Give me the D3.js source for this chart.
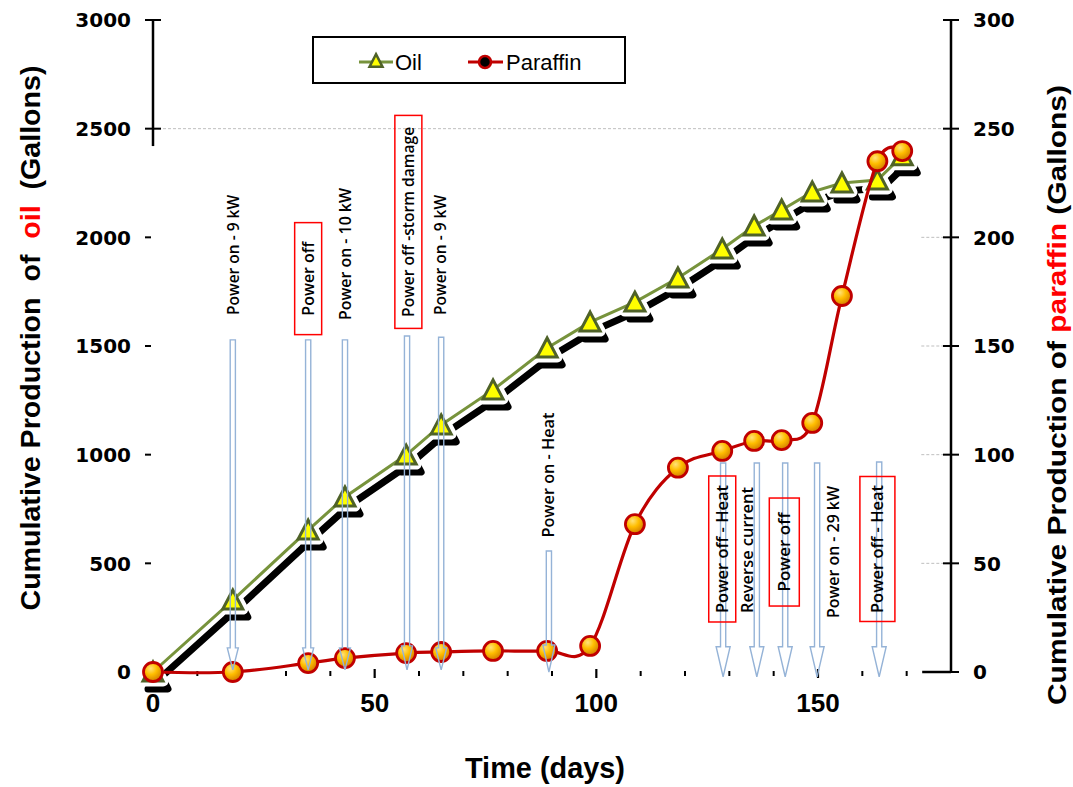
<!DOCTYPE html>
<html>
<head>
<meta charset="utf-8">
<script src="https://cdn.jsdelivr.net/npm/d3@7"></script>
<style>
  html, body { margin: 0; padding: 0; background: #fff; }
  svg { display: block; }
</style>
</head>
<body>
<svg id="chart" width="1073" height="787"></svg>
<script>
// ---------------- data ----------------
const days = [0, 18, 35, 43.3, 57.1, 65, 76.7, 88.9, 98.6, 108.7, 118.4, 128.4, 135.6, 141.8, 148.7, 155.4, 163.4, 169];
const oil = [0, 331, 653, 805, 998, 1137, 1298, 1491, 1610, 1702, 1813, 1946, 2052, 2126, 2209, 2250, 2264, 2375];
const paraffin = [0, 0, 4.1, 6.4, 8.7, 9.2, 9.7, 9.7, 12, 68, 94, 101.7, 106.3, 106.7, 114.6, 173, 235, 239.7];

const xTicks = [0, 50, 100, 150];
const xMinorTicks = [10, 20, 30, 40, 60, 70, 80, 90, 110, 120, 130, 140, 160, 170];
const oilTicks = [0, 500, 1000, 1500, 2000, 2500, 3000];
const parTicks = [0, 50, 100, 150, 200, 250, 300];

const seriesNames = ["Oil", "Paraffin"];

// annotations: arrow day, text day, label, boxed, text centre (oil units), arrow top (oil units)
const annArrowDay = [18, 35, 43.3, 57.3, 65, 89.3, 128.6, 136.2, 142.6, 149.8, 163.8];
const annTextDay  = [18, 35, 43.3, 57.6, 64.8, 89.1, 128.4, 134.0, 142.4, 153.4, 163.4];
const annLabels = ["Power on - 9 kW", "Power off", "Power on - 10 kW", "Power off -storm damage", "Power on - 9 kW",
                   "Power on - Heat", "Power off - Heat", "Reverse current", "Power off", "Power on - 29 kW", "Power off - Heat"];
const annBoxed = [false, true, false, true, false, false, true, false, true, false, true];
const annTextCentre = [1919, 1810, 1923, 2071, 1919, 906, 566, 561, 552, 552, 566];
const annArrowTop = [1528, 1528, 1528, 1546, 1540, 557, 962, 962, 962, 962, 966];
const annArrowTip = [10, 10, 10, 10, 10, 0, -22, -22, -22, -22, -22];

// ---------------- layout / styles ----------------
const annTextLen = [120, 74, 132, 190, 120, 125, 128, 126, 79, 132, 128];
const annBoxHalfH = [0, 56, 0, 106.5, 0, 0, 73, 0, 54, 0, 72.5];
const annBoxW = [0, 27, 0, 27, 0, 0, 27, 0, 30, 0, 35];
const annHeadHW = [5.5, 5.5, 5.5, 5.5, 5.5, 6, 7, 7, 7, 7, 7];
const annHeadL = [22, 22, 22, 24, 22, 27, 30, 30, 30, 30, 30];

const svg = d3.select("#chart");
const X0 = 153, X1 = 951, Y0 = 672, Y1 = 20;
const x = d3.scaleLinear().domain([0, 180]).range([X0, X1]);
const yL = d3.scaleLinear().domain([0, 3000]).range([Y0, Y1]);
const yR = d3.scaleLinear().domain([0, 300]).range([Y0, Y1]);

const oilData = days.map((d, i) => ({ d, v: oil[i] }));
const parData = days.map((d, i) => ({ d, v: paraffin[i] }));

// defs
const defs = svg.append("defs");
const rg = defs.append("radialGradient").attr("id", "ball").attr("cx", "38%").attr("cy", "32%").attr("r", "70%");
rg.append("stop").attr("offset", "0%").attr("stop-color", "#FFE27A");
rg.append("stop").attr("offset", "45%").attr("stop-color", "#FFBE00");
rg.append("stop").attr("offset", "100%").attr("stop-color", "#D07A00");

// ---------------- gridlines ----------------
const grid = svg.append("g");
grid.append("line").attr("x1", X0).attr("x2", X1).attr("y1", yR(250)).attr("y2", yR(250))
  .attr("stroke", "#BFBFBF").attr("stroke-width", 1).attr("stroke-dasharray", "3,2");
[50, 100, 150, 200].forEach(t => {
  grid.append("line").attr("x1", x(173.3)).attr("x2", X1).attr("y1", yR(t)).attr("y2", yR(t))
    .attr("stroke", "#BFBFBF").attr("stroke-width", 1).attr("stroke-dasharray", "3,2");
});

// ---------------- axes ----------------
const ax = svg.append("g").attr("stroke", "#000");
ax.append("line").attr("x1", X0).attr("x2", X0).attr("y1", yL(3000)).attr("y2", yL(2420)).attr("stroke-width", 2.5);
oilTicks.forEach(t => {
  const big = t >= 2500;
  ax.append("line").attr("x1", X0 - 8).attr("x2", big ? X0 + 8 : X0 - 2)
    .attr("y1", yL(t)).attr("y2", yL(t)).attr("stroke-width", 2);
});
ax.append("line").attr("x1", X1).attr("x2", X1).attr("y1", Y1).attr("y2", Y0).attr("stroke-width", 2.5);
parTicks.forEach(t => {
  ax.append("line").attr("x1", X1 - 8).attr("x2", X1 + 8).attr("y1", yR(t)).attr("y2", yR(t)).attr("stroke-width", 2);
});
ax.append("line").attr("x1", x(173.5)).attr("x2", X1).attr("y1", Y0).attr("y2", Y0).attr("stroke-width", 2.5);
xMinorTicks.forEach(t => {
  ax.append("line").attr("x1", x(t)).attr("x2", x(t)).attr("y1", Y0 - 1).attr("y2", Y0 + 4).attr("stroke-width", 2);
});
xTicks.forEach(t => {
  ax.append("line").attr("x1", x(t)).attr("x2", x(t)).attr("y1", Y0 - 3).attr("y2", Y0 + 6).attr("stroke-width", 2.2);
});

// tick labels
const tickFont = "'DejaVu Sans', sans-serif";
svg.append("g").selectAll("text").data(oilTicks).join("text")
  .attr("x", 131).attr("y", d => yL(d)).attr("dy", "0.36em").attr("text-anchor", "end")
  .attr("font-family", tickFont).attr("font-weight", "bold").attr("font-size", 20).text(d => d);
svg.append("g").selectAll("text").data(parTicks).join("text")
  .attr("x", 973).attr("y", d => yR(d)).attr("dy", "0.36em").attr("text-anchor", "start")
  .attr("font-family", tickFont).attr("font-weight", "bold").attr("font-size", 20).text(d => d);
svg.append("g").selectAll("text").data(xTicks).join("text")
  .attr("x", d => x(d)).attr("y", 712).attr("text-anchor", "middle")
  .attr("font-family", "'Liberation Sans', Arial, sans-serif").attr("font-weight", "bold").attr("font-size", 25)
  .attr("textLength", d => String(d).length * 14.5).attr("lengthAdjust", "spacingAndGlyphs").text(d => d);

// axis titles
const titleFont = "'Liberation Sans', Arial, sans-serif";
function rotTitle(cx, cy, len, parts, size) {
  const t = svg.append("text").attr("transform", `translate(${cx},${cy}) rotate(-90)`)
    .attr("text-anchor", "middle").attr("dominant-baseline", "central")
    .attr("font-family", titleFont).attr("font-weight", "bold").attr("font-size", size)
    .attr("textLength", len).attr("lengthAdjust", "spacingAndGlyphs")
    .style("white-space", "pre");
  parts.forEach(p => t.append("tspan").attr("fill", p[1]).text(p[0]));
}
rotTitle(31, 338, 545, [["Cumulative Production  of  ", "#000"], ["oil", "#FF0000"], ["  (Gallons)", "#000"]], 27);
rotTitle(1057, 395, 620, [["Cumulative Production of ", "#000"], ["paraffin", "#FF0000"], [" (Gallons)", "#000"]], 26);
svg.append("text").attr("x", 545).attr("y", 778).attr("text-anchor", "middle")
  .attr("font-family", titleFont).attr("font-weight", "bold").attr("font-size", 29)
  .attr("textLength", 160).attr("lengthAdjust", "spacingAndGlyphs").text("Time (days)");

// ---------------- oil series ----------------
const triPath = (s) => {
  const h = s * 0.9;
  return `M0,${-h / 2 - 1}L${s / 2},${h / 2}L${-s / 2},${h / 2}Z`;
};
const oilLine = d3.line().x(p => x(p.d)).y(p => yL(p.v));
const SX = 5, SY = 8;
const shadow = svg.append("g").attr("transform", `translate(${SX},${SY})`);
shadow.append("path").attr("d", oilLine(oilData)).attr("fill", "none").attr("stroke", "#000").attr("stroke-width", 7);
shadow.selectAll("path.ts").data(oilData).join("path").attr("class", "ts")
  .attr("transform", p => `translate(${x(p.d)},${yL(p.v)})`)
  .attr("d", triPath(20)).attr("fill", "#000").attr("stroke", "#000").attr("stroke-width", 7).attr("stroke-linejoin", "round");
// white halos
svg.append("g").selectAll("path").data(oilData).join("path")
  .attr("transform", p => `translate(${x(p.d)},${yL(p.v)})`)
  .attr("d", triPath(20)).attr("fill", "#fff").attr("stroke", "#fff").attr("stroke-width", 11).attr("stroke-linejoin", "round");
svg.append("path").attr("d", oilLine(oilData)).attr("fill", "none").attr("stroke", "#77933C").attr("stroke-width", 3);
svg.append("g").selectAll("path").data(oilData).join("path")
  .attr("transform", p => `translate(${x(p.d)},${yL(p.v)})`)
  .attr("d", triPath(20)).attr("fill", "#FFFF00").attr("stroke", "#4F6228").attr("stroke-width", 3).attr("stroke-linejoin", "miter");

// ---------------- paraffin series ----------------
const parLine = d3.line().x(p => x(p.d)).y(p => yR(p.v)).curve(d3.curveCardinal.tension(0));
svg.append("path").attr("d", parLine(parData)).attr("fill", "none").attr("stroke", "#C00000").attr("stroke-width", 3.2);
svg.append("g").selectAll("circle").data(parData).join("circle")
  .attr("cx", p => x(p.d)).attr("cy", p => yR(p.v)).attr("r", 9.5)
  .attr("fill", "url(#ball)").attr("stroke", "#C00000").attr("stroke-width", 2.8);

// ---------------- annotations ----------------
const ann = svg.append("g");
annLabels.forEach((lab, i) => {
  const ax0 = x(annArrowDay[i]), top = yL(annArrowTop[i]), tip = yL(annArrowTip[i]);
  const sw = 2.6, hw = annHeadHW[i], hl = annHeadL[i];
  ann.append("path")
    .attr("d", `M${ax0 - sw},${top}L${ax0 + sw},${top}L${ax0 + sw},${tip - hl}L${ax0 + hw},${tip - hl}L${ax0},${tip}L${ax0 - hw},${tip - hl}L${ax0 - sw},${tip - hl}Z`)
    .attr("fill", "none").attr("stroke", "#95B3D7").attr("stroke-width", 1.4).attr("stroke-linejoin", "miter");
});
annLabels.forEach((lab, i) => {
  const tx = x(annTextDay[i]), ty = yL(annTextCentre[i]);
  if (annBoxed[i]) {
    ann.append("rect").attr("x", tx - annBoxW[i] / 2).attr("y", ty - annBoxHalfH[i])
      .attr("width", annBoxW[i]).attr("height", annBoxHalfH[i] * 2)
      .attr("fill", "none").attr("stroke", "#FF0000").attr("stroke-width", 1.5);
  }
  ann.append("text").attr("transform", `translate(${tx},${ty}) rotate(-90)`)
    .attr("text-anchor", "middle").attr("dominant-baseline", "central")
    .attr("font-family", "'Open Sans', sans-serif").attr("font-size", 16).attr("font-weight", 600)
    .attr("textLength", annTextLen[i]).attr("lengthAdjust", "spacingAndGlyphs")
    .attr("fill", "#000").text(lab);
});

// ---------------- legend ----------------
const lg = svg.append("g");
lg.append("rect").attr("x", 313).attr("y", 37).attr("width", 312).attr("height", 46)
  .attr("fill", "#fff").attr("stroke", "#000").attr("stroke-width", 2);
lg.append("line").attr("x1", 359).attr("x2", 393).attr("y1", 62).attr("y2", 62).attr("stroke", "#77933C").attr("stroke-width", 3);
lg.append("path").attr("transform", "translate(376,61)").attr("d", triPath(13))
  .attr("fill", "#FFFF00").attr("stroke", "#4F6228").attr("stroke-width", 2.5);
lg.append("text").attr("x", 395).attr("y", 70).attr("font-family", "'Liberation Sans', Arial, sans-serif")
  .attr("font-size", 22).text(seriesNames[0]);
lg.append("line").attr("x1", 468).attr("x2", 503).attr("y1", 62).attr("y2", 62).attr("stroke", "#C00000").attr("stroke-width", 3);
lg.append("circle").attr("cx", 485).attr("cy", 62).attr("r", 6).attr("fill", "#000").attr("stroke", "#C00000").attr("stroke-width", 2.5);
lg.append("text").attr("x", 506).attr("y", 70).attr("font-family", "'Liberation Sans', Arial, sans-serif")
  .attr("font-size", 22).text(seriesNames[1]);
</script>
</body>
</html>
